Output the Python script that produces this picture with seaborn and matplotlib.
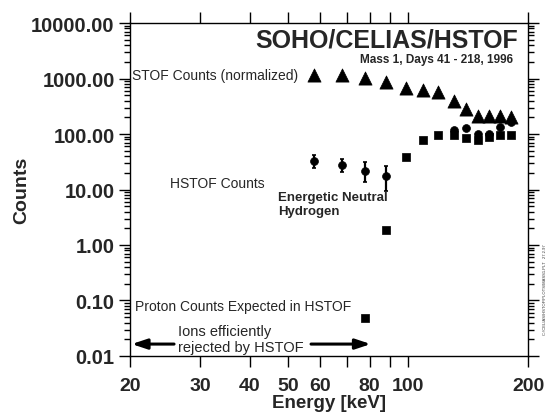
import matplotlib
matplotlib.use("Agg")
import matplotlib.pyplot as plt
import seaborn as sns
import numpy as np
import pandas as pd
from matplotlib.ticker import (FixedLocator, FixedFormatter, LogLocator, FuncFormatter,
                               NullLocator, NullFormatter)

# ---- data ----
stof_energy = [58, 68, 78, 88, 99, 109, 119, 130, 140, 150, 160, 170, 181]
stof_counts = [1160, 1160, 1020, 865, 675, 620, 570, 395, 282, 211, 211, 211, 202]

proton_energy = [78, 88, 99, 109, 119, 130, 140, 150, 160, 170, 181]
proton_counts = [0.048, 1.9, 38, 78, 96, 96, 85, 78, 88, 96, 96]

hstof_energy = [58, 68, 78, 88, 130, 140, 150, 160, 170, 181]
hstof_counts = [32.6, 27.6, 21.5, 17.5, 118, 128, 100, 100, 134, 164]
err_energy = [58, 68, 78, 88]
err_center = [32.6, 27.6, 21.5, 17.5]
err_low = [24.4, 20.6, 13.6, 9.4]
err_high = [41.9, 35.4, 31.3, 26.5]

x_ticks = [20, 30, 40, 50, 60, 70, 80, 90, 100, 200]
x_labels = ["20", "30", "40", "50", "60", "", "80", "", "100", "200"]
y_ticks = [0.01, 0.1, 1, 10, 100, 1000, 10000]
y_labels = ["0.01", "0.10", "1.00", "10.00", "100.00", "1000.00", "10000.00"]

sns.set_style("ticks")
plt.rcParams["font.family"] = ["Liberation Sans", "DejaVu Sans"]

fig = plt.figure(figsize=(5.54, 4.14), dpi=100)
ax = fig.add_axes([0.2347, 0.1377, 0.7184, 0.8043])

df_s = pd.DataFrame({"E": stof_energy, "C": stof_counts})
df_p = pd.DataFrame({"E": proton_energy, "C": proton_counts})
df_h = pd.DataFrame({"E": hstof_energy, "C": hstof_counts})

sns.scatterplot(data=df_s, x="E", y="C", marker="^", s=90, color="black",
                edgecolor="black", linewidth=0.5, ax=ax, zorder=3)
sns.scatterplot(data=df_p, x="E", y="C", marker="s", s=26, color="black",
                edgecolor="black", linewidth=0.5, ax=ax, zorder=3)
sns.scatterplot(data=df_h, x="E", y="C", marker="o", s=32, color="black",
                edgecolor="black", linewidth=0.5, ax=ax, zorder=4)

yc = np.array(err_center)
ax.errorbar(err_energy, yc, yerr=[yc - np.array(err_low), np.array(err_high) - yc],
            fmt="none", ecolor="black", elinewidth=1.6, capsize=1.5, capthick=1.2, zorder=4)

ax.set_xscale("log")
ax.set_yscale("log")
ax.set_xlim(20, 200)
ax.set_ylim(0.01, 10000)

ax.xaxis.set_major_locator(FixedLocator(x_ticks))
ax.xaxis.set_major_formatter(FixedFormatter(x_labels))
ax.xaxis.set_minor_locator(NullLocator())
ax.xaxis.set_minor_formatter(NullFormatter())
ax.yaxis.set_major_locator(FixedLocator(y_ticks))
ax.yaxis.set_major_formatter(FixedFormatter(y_labels))
ax.yaxis.set_minor_locator(LogLocator(base=10, subs=np.arange(2, 10), numticks=20))
ax.yaxis.set_minor_formatter(NullFormatter())

ax.tick_params(which="both", direction="out", top=True, right=True,
               labeltop=False, labelright=False, color="black", width=1)
ax.tick_params(which="major", length=8)
ax.tick_params(which="minor", length=4)
ax.tick_params(axis="x", which="major", pad=7)
ax.tick_params(axis="y", which="major", pad=3)
for lab in ax.get_xticklabels():
    lab.set_fontsize(14); lab.set_fontweight("bold")
for lab in ax.get_yticklabels():
    lab.set_fontsize(14.5); lab.set_fontweight("bold")
for sp in ax.spines.values():
    sp.set_visible(True); sp.set_linewidth(1); sp.set_color("black")

ax.set_xlabel("Energy [keV]", fontsize=13.5, fontweight="bold", labelpad=0)
ax.set_ylabel("Counts", fontsize=14, fontweight="bold", labelpad=1)

# ---- annotations ----
ax.text(0.975, 0.95, "SOHO/CELIAS/HSTOF", transform=ax.transAxes, ha="right",
        va="center", fontsize=18, fontweight="bold")
ax.text(0.962, 0.893, "Mass 1, Days 41 - 218, 1996", transform=ax.transAxes,
        ha="right", va="center", fontsize=8.5, fontweight="bold")
ax.text(0.006, 0.844, "STOF Counts (normalized)", transform=ax.transAxes,
        ha="left", va="center", fontsize=10)
ax.text(0.1005, 0.5195, "HSTOF Counts", transform=ax.transAxes,
        ha="left", va="center", fontsize=10)
ax.text(0.372, 0.456, "Energetic Neutral\nHydrogen", transform=ax.transAxes,
        ha="left", va="center", fontsize=9.5, fontweight="bold", linespacing=1.15)
ax.text(0.0126, 0.150, "Proton Counts Expected in HSTOF", transform=ax.transAxes,
        ha="left", va="center", fontsize=10)
ax.text(0.1206, 0.051, "Ions efficiently\nrejected by HSTOF", transform=ax.transAxes,
        ha="left", va="center", fontsize=10.5, linespacing=1.1)

arrow_y = 0.0164
ax.annotate("", xy=(20.2, arrow_y), xytext=(25.8, arrow_y),
            arrowprops=dict(arrowstyle="-|>,head_length=0.9,head_width=0.3",
                            color="black", lw=2.2, shrinkA=0, shrinkB=0))
ax.annotate("", xy=(80.5, arrow_y), xytext=(57.0, arrow_y),
            arrowprops=dict(arrowstyle="-|>,head_length=0.9,head_width=0.3",
                            color="black", lw=2.2, shrinkA=0, shrinkB=0))

fig.text(0.984, 0.30, "C:\\CELIAS\\HSTOF\\PLOTS\\MASS1.PLT   27.2.97", rotation=90,
         fontsize=3, ha="center", va="center", color="#333333")

fig.savefig("out.png", dpi=100)
